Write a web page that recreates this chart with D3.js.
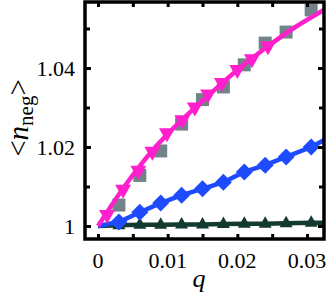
<!DOCTYPE html>
<html>
<head>
<meta charset="utf-8">
<script src="https://cdn.jsdelivr.net/npm/d3@7"></script>
<style>
  body { margin: 0; background: #fff; }
  text { font-family: "Liberation Serif", "DejaVu Serif", serif; }
</style>
</head>
<body>
<svg id="chart" width="327" height="297"></svg>
<script>
// magenta curve
const lineQ = [0, 0.004, 0.008, 0.012, 0.016, 0.020, 0.024, 0.028, 0.0327];
const lineN = [1.0, 1.0105, 1.0195, 1.0268, 1.0333, 1.0395, 1.0450, 1.0500, 1.0550];
// magenta triangles
const triQ = [0.0013, 0.0036, 0.0058, 0.0078, 0.0099, 0.0121, 0.0139, 0.0158, 0.0178, 0.0200, 0.0221, 0.0244];
const triN = [1.0028, 1.0092, 1.0140, 1.0188, 1.0235, 1.0268, 1.0300, 1.0333, 1.0362, 1.0395, 1.0422, 1.0455];
// grey squares
const sqQ = [0.003, 0.006, 0.009, 0.012, 0.015, 0.018, 0.021, 0.024, 0.027, 0.0306];
const sqN = [1.0053, 1.0128, 1.0190, 1.0258, 1.0320, 1.0352, 1.0408, 1.0463, 1.0491, 1.0547];
// blue diamonds
const diaQ = [0, 0.003, 0.006, 0.009, 0.012, 0.015, 0.018, 0.021, 0.024, 0.027, 0.0306, 0.0327];
const diaN = [1.0, 1.0010, 1.0035, 1.0058, 1.0078, 1.0094, 1.0111, 1.0137, 1.0154, 1.0175, 1.0200, 1.0220];
// dark green triangles
const grnQ = [0, 0.003, 0.006, 0.009, 0.012, 0.015, 0.018, 0.021, 0.024, 0.027, 0.0306, 0.0327];
const grnN = [1.0, 1.0002, 1.0003, 1.0003, 1.0004, 1.0004, 1.0005, 1.0006, 1.0006, 1.0007, 1.0008, 1.0008];

const xMajor = [0, 0.01, 0.02, 0.03];
const xMinor = [0.005, 0.015, 0.025];
const yMajor = [1, 1.02, 1.04];
const yMinor = [1.01, 1.03, 1.05];

const svg = d3.select("#chart");
const frameL = 85, frameR = 324, frameT = 2, frameB = 239;

const x = d3.scaleLinear().domain([0, 0.03]).range([98, 307]);
const y = d3.scaleLinear().domain([1, 1.04]).range([226, 68]);

svg.append("clipPath").attr("id", "clip")
  .append("rect")
    .attr("x", frameL).attr("y", frameT)
    .attr("width", frameR - frameL).attr("height", frameB - frameT);

const plot = svg.append("g").attr("clip-path", "url(#clip)");

const line = d3.line().x(d => x(d[0])).y(d => y(d[1]));

// lines
plot.append("path")
  .datum(grnQ.map((q, i) => [q, grnN[i]]))
  .attr("d", line).attr("fill", "none")
  .attr("stroke", "#123a30").attr("stroke-width", 4.5);

plot.append("path")
  .datum(diaQ.map((q, i) => [q, diaN[i]]))
  .attr("d", line).attr("fill", "none")
  .attr("stroke", "#1f4bff").attr("stroke-width", 4.5);

// green triangles
plot.append("g").selectAll("path")
  .data(grnQ.slice(1, -1).map((q, i) => [q, grnN[i + 1]]))
  .join("path")
    .attr("transform", d => `translate(${x(d[0])},${y(d[1])})`)
    .attr("d", "M0,-7.5L6.5,4L-6.5,4Z")
    .attr("fill", "#123a30");

// blue diamonds
plot.append("g").selectAll("path")
  .data(diaQ.slice(1, -1).map((q, i) => [q, diaN[i + 1]]))
  .join("path")
    .attr("transform", d => `translate(${x(d[0])},${y(d[1])})`)
    .attr("d", "M0,-8.5L8.5,0L0,8.5L-8.5,0Z")
    .attr("fill", "#1f4bff");

// grey squares
plot.append("g").selectAll("rect")
  .data(sqQ.map((q, i) => [q, sqN[i]]))
  .join("rect")
    .attr("x", d => x(d[0]) - 6.5)
    .attr("y", d => y(d[1]) - 6.5)
    .attr("width", 13).attr("height", 13)
    .attr("fill", "#738488");

// magenta curve + down triangles
plot.append("path")
  .datum(lineQ.map((q, i) => [q, lineN[i]]))
  .attr("d", line.curve(d3.curveMonotoneX)).attr("fill", "none")
  .attr("stroke", "#ff1fcc").attr("stroke-width", 4.5);

plot.append("g").selectAll("path")
  .data(triQ.map((q, i) => [q, triN[i]]))
  .join("path")
    .attr("transform", d => `translate(${x(d[0])},${y(d[1])})`)
    .attr("d", "M-8,-5L8,-5L0,9Z")
    .attr("fill", "#ff1fcc");

// ticks
const axes = svg.append("g");
axes.append("g").attr("transform", `translate(${frameL},0)`)
  .call(d3.axisRight(y).tickValues(yMajor).tickSize(6).tickFormat(""));
axes.append("g").attr("transform", `translate(${frameL},0)`)
  .call(d3.axisRight(y).tickValues(yMinor).tickSize(5).tickFormat(""));
axes.append("g").attr("transform", `translate(${frameR},0)`)
  .call(d3.axisLeft(y).tickValues(yMajor).tickSize(6).tickFormat(""));
axes.append("g").attr("transform", `translate(${frameR},0)`)
  .call(d3.axisLeft(y).tickValues(yMinor).tickSize(5).tickFormat(""));
axes.append("g").attr("transform", `translate(0,${frameB})`)
  .call(d3.axisTop(x).tickValues(xMajor.concat(xMinor)).tickSize(5).tickFormat(""));
axes.append("g").attr("transform", `translate(0,${frameT})`)
  .call(d3.axisBottom(x).tickValues(xMajor.concat(xMinor)).tickSize(5).tickFormat(""));
axes.selectAll(".domain").remove();
axes.selectAll(".tick line").attr("stroke", "#000").attr("stroke-width", 3);

// frame
svg.append("rect")
  .attr("x", frameL).attr("y", frameT)
  .attr("width", frameR - frameL).attr("height", frameB - frameT)
  .attr("fill", "none").attr("stroke", "#000").attr("stroke-width", 3.5);

// tick labels
svg.append("g").selectAll("text")
  .data(yMajor)
  .join("text")
    .attr("x", 75).attr("y", d => y(d) + 7.5)
    .attr("text-anchor", "end")
    .attr("font-size", 22)
    .text(d => d === 1 ? "1" : d3.format(".2f")(d));

svg.append("g").selectAll("text")
  .data(xMajor)
  .join("text")
    .attr("x", d => x(d)).attr("y", 268)
    .attr("text-anchor", "middle")
    .attr("font-size", 22)
    .text(d => d === 0 ? "0" : d3.format(".2f")(d));

// axis titles
svg.append("text")
  .attr("x", 199).attr("y", 287)
  .attr("text-anchor", "middle")
  .attr("font-size", 26).attr("font-style", "italic")
  .text("q");

const yt = svg.append("text")
  .attr("transform", "translate(28,118) rotate(-90)")
  .attr("text-anchor", "middle")
  .attr("font-size", 29);
yt.append("tspan").text("<");
yt.append("tspan").attr("font-style", "italic").text("n");
yt.append("tspan").attr("font-size", 21).attr("dy", 5).text("neg");
yt.append("tspan").attr("dy", -5).text(">");
</script>
</body>
</html>
